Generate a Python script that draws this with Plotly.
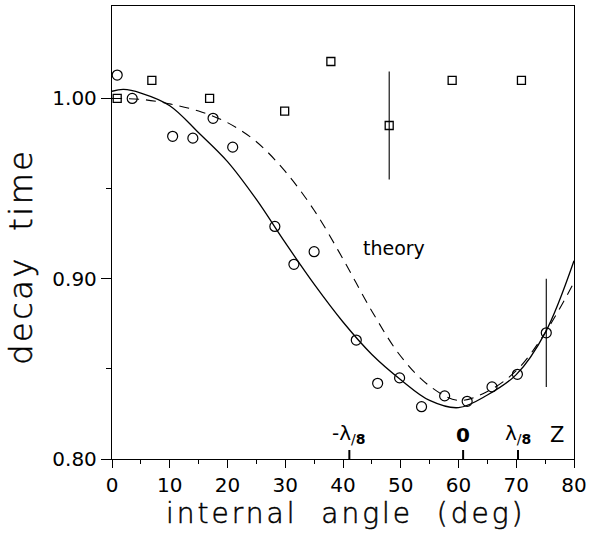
import plotly.graph_objects as go

# ---- data ----
circle_x = [0.9, 3.5, 10.5, 14.0, 17.5, 20.9, 28.2, 31.5, 35.0, 42.3, 46.0, 49.8, 53.6, 57.6, 61.5, 65.8, 70.2, 75.2]
circle_y = [1.013, 1.000, 0.979, 0.978, 0.989, 0.973, 0.929, 0.908, 0.915, 0.866, 0.842, 0.845, 0.829, 0.835, 0.832, 0.840, 0.847, 0.870]
circle_err = [0, 0, 0, 0, 0, 0, 0, 0, 0, 0, 0, 0, 0, 0, 0, 0, 0, 0.030]

square_x = [0.9, 6.9, 16.9, 29.9, 37.9, 48.0, 58.9, 70.9]
square_y = [1.000, 1.010, 1.000, 0.993, 1.0205, 0.985, 1.010, 1.010]
square_err = [0, 0, 0, 0, 0, 0.030, 0, 0]

fit_x = [0, 2, 5, 10, 15, 20, 25, 30, 35, 40, 45, 50, 55, 60, 65, 70, 75, 80]
fit_y = [1.004, 1.005, 1.003, 0.996, 0.981, 0.965, 0.944, 0.920, 0.897, 0.876, 0.858, 0.844, 0.8325, 0.8285, 0.8355, 0.8468, 0.870, 0.910]

theory_x = [0, 5, 10, 15, 20, 25, 30, 35, 40, 45, 50, 55, 60, 65, 70, 75, 80]
theory_y = [1.000, 0.9995, 0.997, 0.993, 0.9866, 0.976, 0.9595, 0.938, 0.911, 0.882, 0.857, 0.8405, 0.8325, 0.8375, 0.849, 0.870, 0.898]

special_x = [41.1, 60.8, 70.3]
special_labels = ["-λ<sub>/<b>8</b></sub>", "<b>0</b>", "λ<sub>/<b>8</b></sub>"]
z_x = 77.1
z_label = "Z"

x_ticks = [0, 10, 20, 30, 40, 50, 60, 70, 80]
y_ticks = [0.80, 0.90, 1.00]
y_ticklabels = ["0.80", "0.90", "1.00"]

FONT = "DejaVu Sans"

fig = go.Figure()

fig.add_trace(go.Scatter(x=fit_x, y=fit_y, mode="lines", line=dict(color="black", width=1.3, shape="spline"),
                         showlegend=False, hoverinfo="skip"))
fig.add_trace(go.Scatter(x=theory_x, y=theory_y, mode="lines",
                         line=dict(color="black", width=1.1, shape="spline", dash="10px,7px"),
                         showlegend=False, hoverinfo="skip"))
fig.add_trace(go.Scatter(x=circle_x, y=circle_y, mode="markers",
                         marker=dict(symbol="circle-open", size=10, color="black", line=dict(width=1.2)),
                         error_y=dict(type="data", array=circle_err, visible=True, width=0, thickness=1.1, color="black"),
                         cliponaxis=False, showlegend=False))
fig.add_trace(go.Scatter(x=square_x, y=square_y, mode="markers",
                         marker=dict(symbol="square-open", size=8, color="black", line=dict(width=1.3)),
                         error_y=dict(type="data", array=square_err, visible=True, width=0, thickness=1.1, color="black"),
                         cliponaxis=False, showlegend=False))

# special position ticks on x axis (pointing up)
for sx, lab in zip(special_x, special_labels):
    fig.add_shape(type="line", xref="x", yref="y", x0=sx, x1=sx, ysizemode="pixel", yanchor=0.80,
                  y0=0, y1=9, line=dict(color="black", width=2))
    fig.add_annotation(x=sx, y=0.80, xref="x", yref="y", text=lab, showarrow=False,
                       yanchor="bottom", yshift=10, font=dict(family=FONT, size=20, color="black"))
fig.add_annotation(x=z_x, y=0.80, xref="x", yref="y", text=z_label, showarrow=False,
                   yanchor="bottom", yshift=10, font=dict(family=FONT, size=21, color="black"))

fig.add_annotation(x=48.9, y=0.917, xref="x", yref="y", text="theory", showarrow=False,
                   font=dict(family=FONT, size=19, color="black"))

# axis titles
fig.add_annotation(x=0.505, y=-0.12, xref="paper", yref="paper", text="internal  angle  (deg)",
                   showarrow=False, yanchor="middle", font=dict(family=FONT, size=28, color="black", weight=200))
fig.add_annotation(x=-0.197, y=0.448, xref="paper", yref="paper", text="decay  time", textangle=-90,
                   showarrow=False, xanchor="center", yanchor="middle",
                   font=dict(family=FONT, size=32, color="black", weight=200))

fig.update_xaxes(range=[0, 80], tickvals=x_ticks, ticks="outside", ticklen=8, tickwidth=1.2, tickcolor="black",
                 showline=True, linecolor="black", linewidth=1.3, mirror=True, showgrid=False, zeroline=False,
                 ticklabeloverflow="allow",
                 minor=dict(dtick=5, tick0=0, ticks="outside", ticklen=4, tickwidth=1.2, tickcolor="black", showgrid=False),
                 tickfont=dict(family=FONT, size=20, color="black"))
fig.update_yaxes(range=[0.80, 1.0513], tickvals=y_ticks, ticktext=y_ticklabels, ticks="outside", ticklen=10,
                 tickwidth=1.2, tickcolor="black",
                 showline=True, linecolor="black", linewidth=1.3, mirror=True, showgrid=False, zeroline=False,
                 minor=dict(tickvals=[0.85, 0.95], ticks="outside", ticklen=5, tickwidth=1.2, tickcolor="black", showgrid=False),
                 tickfont=dict(family=FONT, size=20, color="black"))

fig.update_layout(width=592, height=536, margin=dict(l=112, r=12, t=5, b=77),
                  plot_bgcolor="white", paper_bgcolor="white", showlegend=False)

post = """
var gd = document.getElementById('{plot_id}');
function track() {
  document.querySelectorAll('text.annotation-text').forEach(function (t) {
    var s = t.textContent.replace(/\\s+/g, ' ');
    if (s === 'internal angle (deg)') {
      t.style.letterSpacing = '3px'; t.style.stroke = 'black'; t.style.strokeWidth = '0.5px';
    }
    if (s === 'decay time') {
      t.style.letterSpacing = '2.5px'; t.style.stroke = 'black'; t.style.strokeWidth = '0.5px';
    }
  });
}
track();
gd.on('plotly_afterplot', track);
"""

fig.write_html("out.html", post_script=post)
